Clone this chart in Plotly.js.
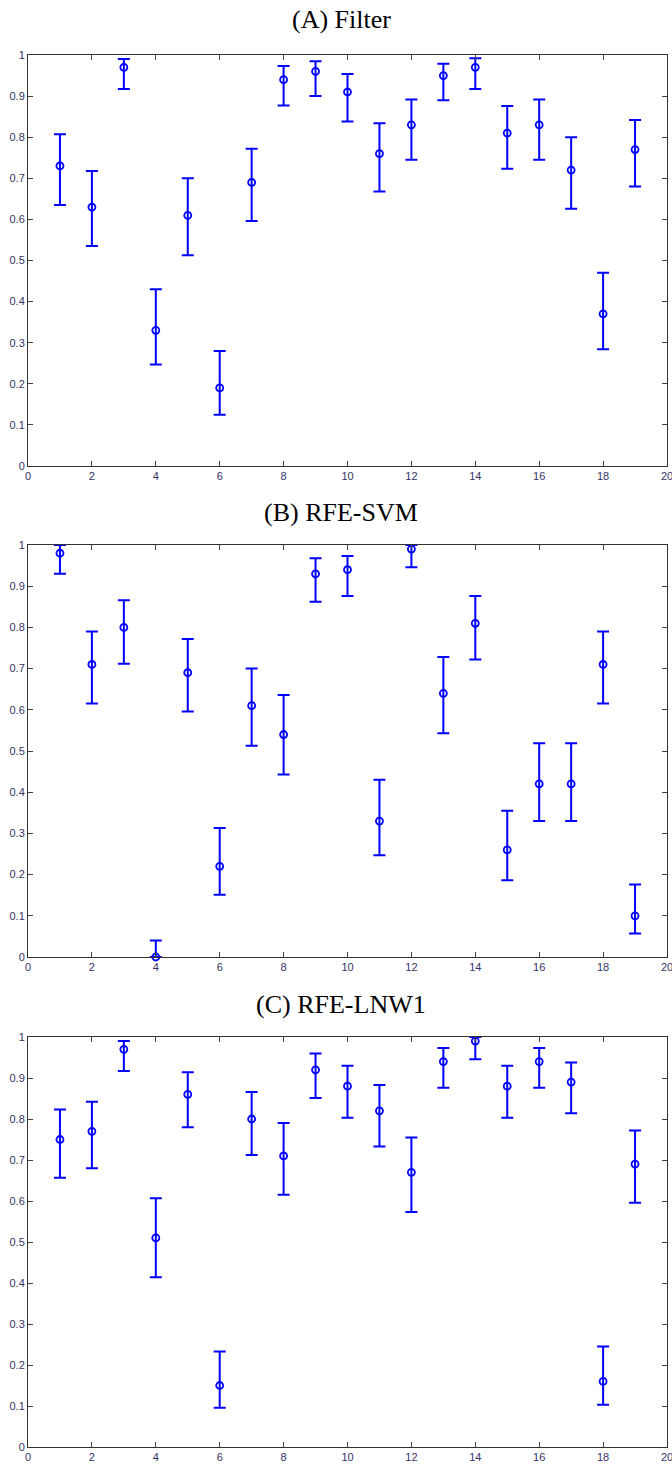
<!DOCTYPE html>
<html>
<head>
<meta charset="utf-8">
<script src="https://cdn.plot.ly/plotly-3.0.1.min.js"></script>
<style>html,body{margin:0;padding:0;background:#fff;}#chart{width:672px;height:1465px;}</style>
</head>
<body>
<div id="chart"></div>
<script>
var features = [1,2,3,4,5,6,7,8,9,10,11,12,13,14,15,16,17,18,19];

var titles = ["(A) Filter", "(B) RFE-SVM", "(C) RFE-LNW1"];

var filterMean  = [0.73,0.63,0.97,0.33,0.61,0.19,0.69,0.94,0.96,0.91,0.76,0.83,0.95,0.97,0.81,0.83,0.72,0.37,0.77];
var filterUpper = [0.807,0.718,0.99,0.43,0.70,0.28,0.772,0.973,0.985,0.954,0.834,0.892,0.979,0.992,0.876,0.892,0.80,0.47,0.842];
var filterLower = [0.635,0.535,0.917,0.247,0.513,0.125,0.596,0.877,0.90,0.838,0.668,0.745,0.89,0.917,0.723,0.745,0.626,0.284,0.68];

var svmMean  = [0.98,0.71,0.80,0.0,0.69,0.22,0.61,0.54,0.93,0.94,0.33,0.99,0.64,0.81,0.26,0.42,0.42,0.71,0.10];
var svmUpper = [1.0,0.79,0.866,0.04,0.772,0.313,0.70,0.636,0.968,0.973,0.43,1.0,0.728,0.876,0.355,0.519,0.519,0.79,0.176];
var svmLower = [0.93,0.615,0.712,0.0,0.596,0.151,0.513,0.443,0.862,0.876,0.247,0.946,0.543,0.722,0.186,0.33,0.33,0.615,0.057];

var lnwMean  = [0.75,0.77,0.97,0.51,0.86,0.15,0.80,0.71,0.92,0.88,0.82,0.67,0.94,0.99,0.88,0.94,0.89,0.16,0.69];
var lnwUpper = [0.823,0.842,0.99,0.607,0.914,0.233,0.866,0.79,0.96,0.93,0.883,0.755,0.973,1.0,0.93,0.973,0.938,0.245,0.772];
var lnwLower = [0.657,0.68,0.917,0.414,0.78,0.096,0.712,0.615,0.851,0.803,0.733,0.573,0.876,0.946,0.803,0.876,0.814,0.103,0.596];

var xTickVals = [0,2,4,6,8,10,12,14,16,18,20];
var yTickVals = [0,0.1,0.2,0.3,0.4,0.5,0.6,0.7,0.8,0.9,1];
var yTickText = ["0","0.1","0.2","0.3","0.4","0.5","0.6","0.7","0.8","0.9","1"];

var W = 672, H = 1465;
var panels = [
  {mean: filterMean, up: filterUpper, lo: filterLower, top: 55, bot: 466, titleY: 19},
  {mean: svmMean, up: svmUpper, lo: svmLower, top: 545, bot: 957, titleY: 512},
  {mean: lnwMean, up: lnwUpper, lo: lnwLower, top: 1037, bot: 1447, titleY: 1004}
];

var traces = [];
var layout = {
  width: W, height: H,
  margin: {l:0, r:0, t:0, b:0},
  paper_bgcolor: '#fff', plot_bgcolor: '#fff',
  showlegend: false,
  annotations: []
};

var tickFont = {family: 'Liberation Sans Narrow, Liberation Sans, Arial, sans-serif', size: 11, color: '#333366'};

panels.forEach(function(p, i) {
  var n = i === 0 ? '' : String(i + 1);
  traces.push({
    type: 'scatter', mode: 'markers',
    x: features, y: p.mean,
    xaxis: 'x' + n, yaxis: 'y' + n,
    cliponaxis: false,
    marker: {symbol: 'circle-open', size: 7, color: '#0000ff', line: {width: 1.8, color: '#0000ff'}},
    error_y: {
      type: 'data', symmetric: false,
      array: p.up.map(function(u, k) { return u - p.mean[k]; }),
      arrayminus: p.lo.map(function(l, k) { return p.mean[k] - l; }),
      color: '#0000ff', thickness: 2, width: 6
    }
  });
  var xa = {
    domain: [28 / W, 667 / W],
    range: [0, 20],
    tickvals: xTickVals,
    ticks: 'inside', ticklen: 5, tickcolor: '#444', tickwidth: 1,
    showline: true, linecolor: '#333', linewidth: 1, mirror: 'ticks',
    showgrid: false, zeroline: false,
    tickfont: tickFont, automargin: false, fixedrange: true,
    ticklabeloverflow: 'allow',
    anchor: 'y' + n
  };
  var ya = {
    domain: [1 - p.bot / H, 1 - p.top / H],
    range: [0, 1],
    tickvals: yTickVals, ticktext: yTickText,
    ticks: 'inside', ticklen: 5, tickcolor: '#444', tickwidth: 1,
    showline: true, linecolor: '#333', linewidth: 1, mirror: 'ticks',
    showgrid: false, zeroline: false,
    tickfont: tickFont, automargin: false, fixedrange: true,
    ticklabeloverflow: 'allow',
    anchor: 'x' + n
  };
  layout['xaxis' + n] = xa;
  layout['yaxis' + n] = ya;
  layout.annotations.push({
    text: titles[i], xref: 'paper', yref: 'paper',
    x: 341 / W, y: 1 - p.titleY / H,
    xanchor: 'center', yanchor: 'middle', showarrow: false,
    font: {family: 'Liberation Serif, Times New Roman, serif', size: 26, color: '#000'}
  });
});

Plotly.newPlot('chart', traces, layout, {displayModeBar: false, staticPlot: true});
</script>
</body>
</html>
